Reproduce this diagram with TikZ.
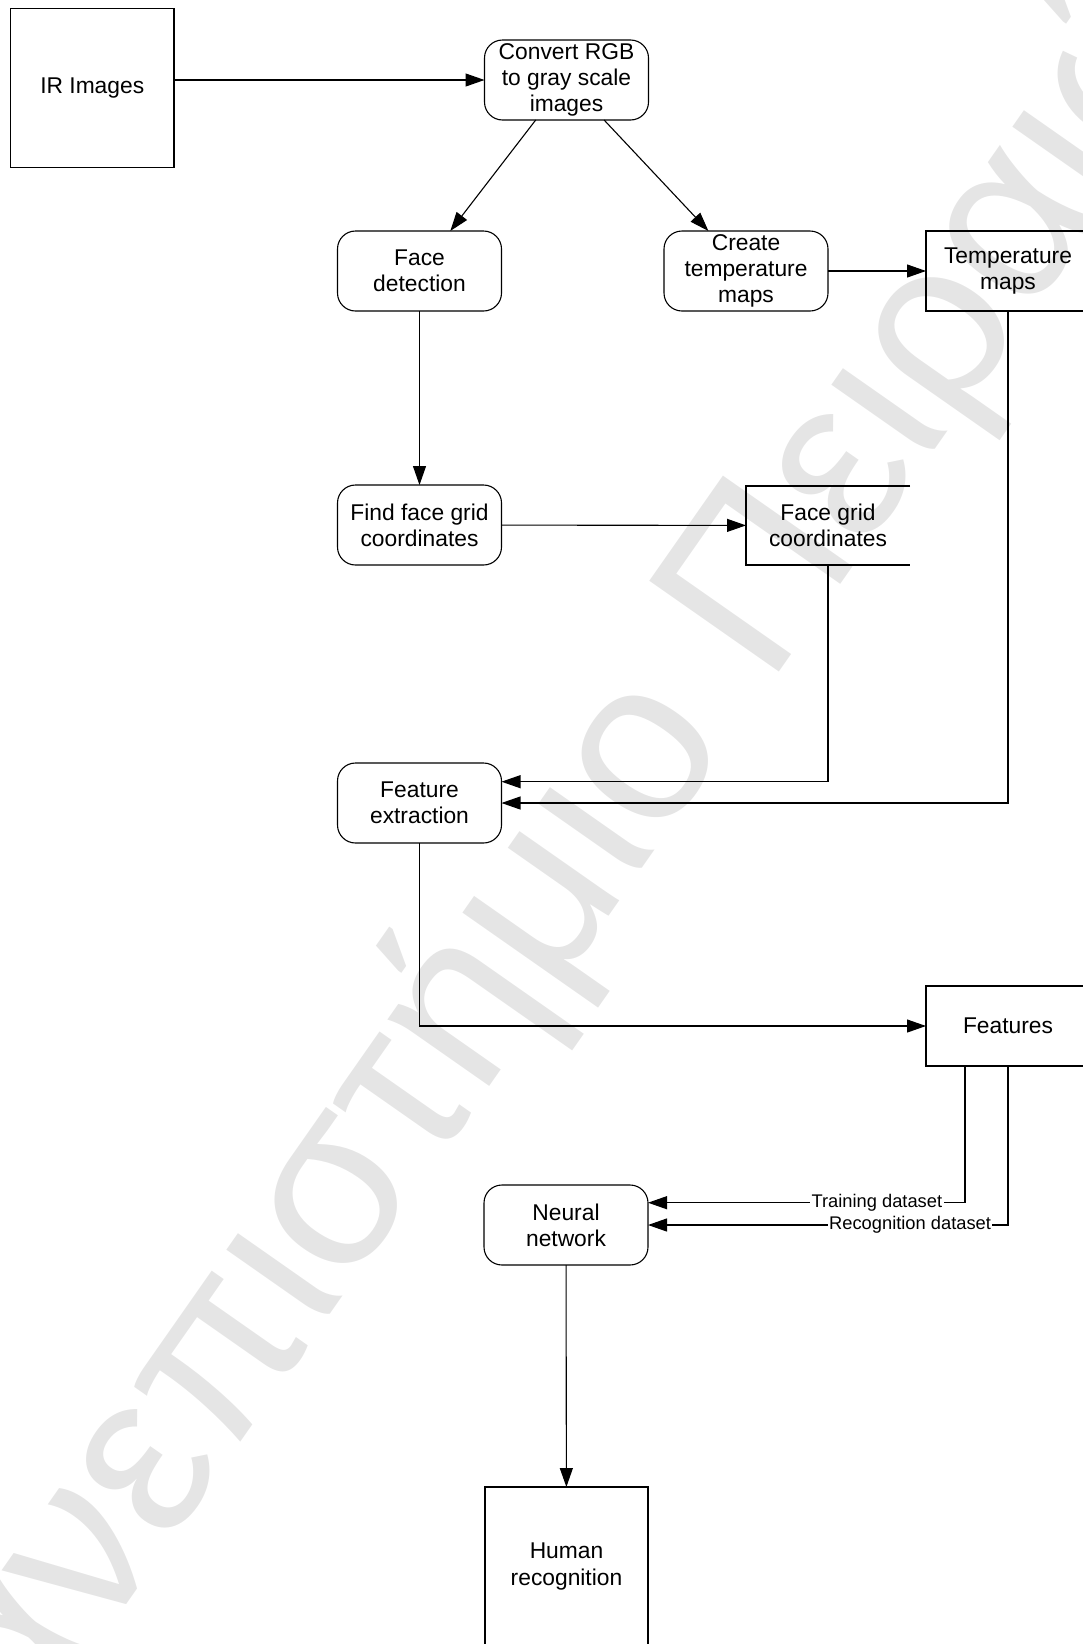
\documentclass[tikz,border=0pt]{standalone}
\usepackage{fontspec}
\setmainfont{Liberation Sans}
\usetikzlibrary{arrows.meta}
\begin{document}
\begin{tikzpicture}[x=1pt,y=-1pt,
  every node/.style={inner sep=0pt, outer sep=0pt},
  ln/.style={line width=1.1pt, draw=black},
  arr/.style={ln, -{Triangle[length=19pt,width=13pt]}},
  txt/.style={font=\fontsize{22.8}{26.3}\selectfont, align=center},
  sqbox/.style={txt, draw, line width=1.1pt, minimum width=164pt, minimum height=80pt},
  rbox/.style={sqbox, rounded corners=18pt},
  lbl/.style={font=\fontsize{18.3}{22}\selectfont, fill=white, inner xsep=1.5pt, inner ysep=1pt},
  wmark/.style={font=\fontsize{230}{276}\selectfont, text=black!10}
]
\useasboundingbox (0,0) rectangle (1083,1644);
\clip (0,0) rectangle (1083,1644);
% watermark
\node[wmark, rotate=55, anchor=base] (wm) at (614.8,907.6) {Πανεπιστήμιο Πειραιώς};
% nodes
\node[sqbox, minimum width=163.5pt, minimum height=159.3pt] (ir) at (92.25,88.05) {IR Images};
\node[rbox] (conv) at (566.5,80) {Convert RGB\\to gray scale\\images};
\node[rbox] (face) at (419.5,271) {Face\\detection};
\node[rbox] (create) at (746,271) {Create\\temperature\\maps};
\node[sqbox] (temp) at (1008,271) {Temperature\\maps};
\node[rbox] (find) at (419.5,525) {Find face grid\\coordinates};
\node[txt, minimum width=164pt, minimum height=79pt] (grid) at (828,525.5) {Face grid\\coordinates};
\draw[ln] (grid.north east) -- (grid.north west) -- (grid.south west) -- (grid.south east);
\node[rbox] (feat) at (419.5,803) {Feature\\extraction};
\node[sqbox] (features) at (1008,1026) {Features};
\node[rbox] (neural) at (566,1225) {Neural\\network};
\node[sqbox, minimum width=163pt, minimum height=159pt] (human) at (566.5,1566.5) {Human\\recognition};
% connectors
\draw[arr] (ir.east |- conv.west) -- (conv.west);
\draw[arr] (conv) -- (face);
\draw[arr] (conv) -- (create);
\draw[arr] (create) -- (temp);
\draw[arr] (face) -- (find);
\draw[arr] (find) -- (grid);
\draw[arr] (grid.south) |- ([yshift=21.3pt]feat.east);
\draw[arr] (temp.south) |- (feat.east);
\draw[arr] (feat.south) |- (features.west);
\draw[arr] ([xshift=-43pt]features.south) |- node[lbl, pos=0.639] (tl) {Training dataset} ([yshift=22.3pt]neural.east);
\draw[arr] (features.south) |- node[lbl, pos=0.636] (rl) {Recognition dataset} (neural.east);
\draw[arr] (neural) -- (human);
\end{tikzpicture}
\end{document}
